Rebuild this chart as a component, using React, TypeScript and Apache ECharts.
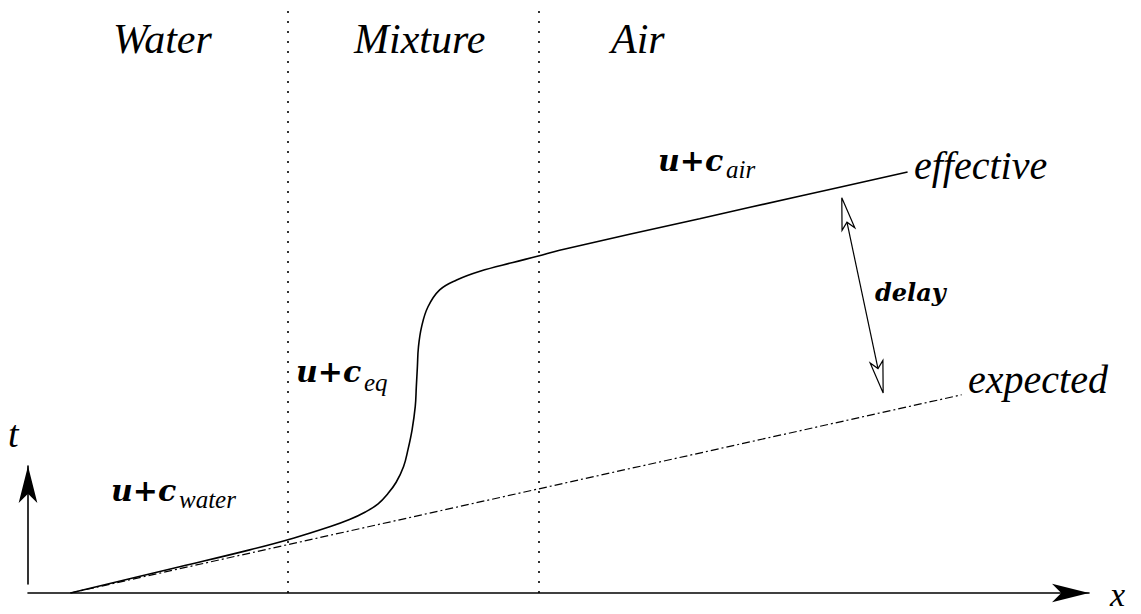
import React, { useEffect, useRef } from "react";
import * as echarts from "echarts";

// Effective characteristic curve (x, t) in arbitrary units
const effectiveX = [0.40, 1.43, 2.09, 2.50, 2.85, 3.03, 3.18, 3.30, 3.39, 3.47, 3.54, 3.58, 3.62, 3.65, 3.66, 3.67, 3.68, 3.71, 3.77, 3.88, 4.04, 4.26, 4.57, 4.81, 5.01, 6.33, 7.28, 8.29];
const effectiveT = [0.00, 0.45, 0.74, 0.94, 1.14, 1.26, 1.39, 1.53, 1.70, 1.90, 2.17, 2.45, 2.80, 3.20, 3.54, 3.88, 4.22, 4.57, 4.91, 5.20, 5.37, 5.52, 5.67, 5.78, 5.88, 6.42, 6.81, 7.22];
// Expected characteristic (straight)
const expectedX = [0.40, 8.80];
const expectedT = [0.00, 3.40];
// Region boundaries (x)
const boundaries = [2.45, 4.81];
// Delay arrow: [x1, t1, x2, t2]
const delayArrow = [7.67, 6.78, 8.06, 3.43];

const SERIF = "Liberation Serif";
const DSERIF = "DejaVu Serif";

function txt(text: string, x: number, y: number, fontSize: number, opts: any = {}) {
  return {
    type: "text",
    x,
    y,
    silent: true,
    style: {
      text,
      fill: "#000",
      fontSize,
      fontFamily: opts.family || SERIF,
      fontStyle: "italic",
      fontWeight: opts.weight || "normal",
      lineHeight: opts.lineHeight || Math.round(fontSize * 1.1),
      align: "left",
      verticalAlign: "middle",
    },
  };
}

export default function App() {
  const ref = useRef<HTMLDivElement>(null);
  useEffect(() => {
    if (!ref.current) return;
    const chart = echarts.init(ref.current, null, { renderer: "svg" });
    const axisLineStyle = { color: "#000", width: 1.6 };
    const option: any = {
      animation: false,
      backgroundColor: "#fff",
      grid: [
        { left: 28, right: 52, top: 10, bottom: 21 },
        { left: 28, width: 10, top: 466, bottom: 30 },
      ],
      xAxis: [
        {
          type: "value", gridIndex: 0, min: 0, max: 10,
          axisLine: { show: true, onZero: false, symbol: ["none", "arrow"], symbolSize: [14, 37], lineStyle: axisLineStyle },
          axisTick: { show: false }, axisLabel: { show: false }, splitLine: { show: false },
        },
        { type: "value", gridIndex: 1, min: 0, max: 1, show: false },
      ],
      yAxis: [
        { type: "value", gridIndex: 0, min: 0, max: 10, show: false },
        {
          type: "value", gridIndex: 1, min: 0, max: 1,
          axisLine: { show: true, onZero: false, symbol: ["none", "arrow"], symbolSize: [14, 37], lineStyle: axisLineStyle },
          axisTick: { show: false }, axisLabel: { show: false }, splitLine: { show: false },
        },
      ],
      series: [
        {
          type: "line",
          name: "expected",
          data: expectedX.map((x, i) => [x, expectedT[i]]),
          symbol: "none",
          lineStyle: { color: "#000", width: 1.2, type: [8, 3, 2, 3] },
          silent: true,
          markLine: {
            silent: true,
            symbol: ["none", "none"],
            label: { show: false },
            lineStyle: { color: "#000", width: 1.6, type: [2, 8] },
            data: boundaries.map((b) => ({ xAxis: b })),
          },
        },
        {
          type: "line",
          name: "effective",
          data: effectiveX.map((x, i) => [x, effectiveT[i]]),
          symbol: "none",
          smooth: 0.4,
          lineStyle: { color: "#000", width: 1.6 },
          silent: true,
        },
        {
          type: "custom",
          name: "delay",
          silent: true,
          encode: { x: [0, 2], y: [1, 3] },
          data: [delayArrow],
          renderItem: (params: any, api: any) => {
            const p1 = api.coord([api.value(0), api.value(1)]);
            const p2 = api.coord([api.value(2), api.value(3)]);
            const dx = p2[0] - p1[0];
            const dy = p2[1] - p1[1];
            const len = Math.sqrt(dx * dx + dy * dy);
            const ux = dx / len, uy = dy / len;
            const nx = -uy, ny = ux;
            const L = 32, W = 6.5, N = 0.78;
            const head = (tip: number[], sx: number, sy: number) => [
              [tip[0], tip[1]],
              [tip[0] + sx * L + nx * W, tip[1] + sy * L + ny * W],
              [tip[0] + sx * L * N, tip[1] + sy * L * N],
              [tip[0] + sx * L - nx * W, tip[1] + sy * L - ny * W],
            ];
            const st = { fill: "#fff", stroke: "#000", lineWidth: 1.2 };
            return {
              type: "group",
              children: [
                {
                  type: "line",
                  shape: {
                    x1: p1[0] + ux * L * N, y1: p1[1] + uy * L * N,
                    x2: p2[0] - ux * L * N, y2: p2[1] - uy * L * N,
                  },
                  style: { stroke: "#000", lineWidth: 1.2 },
                },
                { type: "polygon", shape: { points: head(p1, ux, uy) }, style: st },
                { type: "polygon", shape: { points: head(p2, -ux, -uy) }, style: st },
              ],
            };
          },
        },
      ],
      graphic: [
        txt("Water", 113, 39, 42),
        txt("Mixture", 354, 39, 42),
        txt("Air", 611, 39, 42),
        txt("effective", 914, 165, 40),
        txt("expected", 968, 379, 40),
        txt("delay", 875, 292, 24, { family: DSERIF, weight: "bold" }),
        txt("t", 8, 434, 38),
        txt("x", 1110, 594, 34, { lineHeight: 26 }),
        txt("u+c", 111, 490, 30, { family: DSERIF, weight: "bold" }),
        txt("water", 179, 499, 25),
        txt("u+c", 296, 371, 30, { family: DSERIF, weight: "bold" }),
        txt("eq", 364, 382, 25),
        txt("u+c", 658, 160, 30, { family: DSERIF, weight: "bold" }),
        txt("air", 726, 169, 25, { lineHeight: 20 }),
      ],
    };
    chart.setOption(option);
    return () => chart.dispose();
  }, []);
  return (
    <div
      ref={ref}
      style={{ position: "absolute", left: 0, top: 0, width: 1141, height: 614, background: "#fff" }}
    />
  );
}
